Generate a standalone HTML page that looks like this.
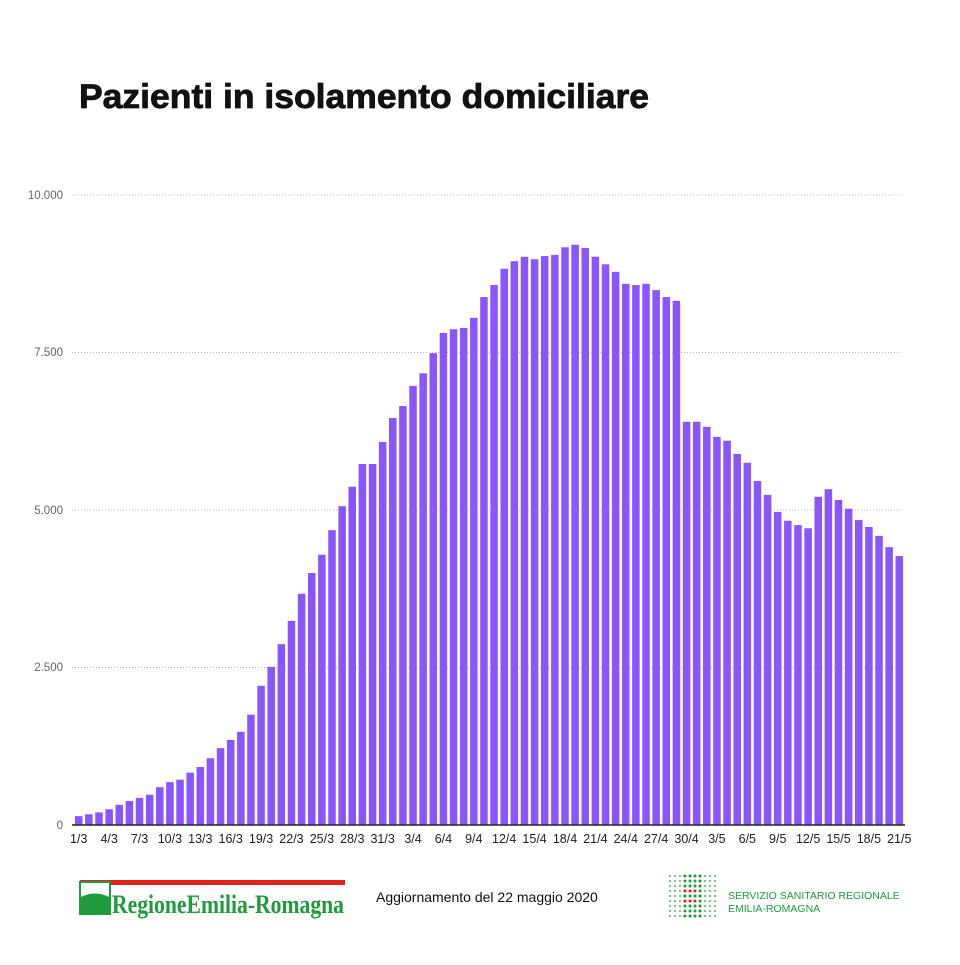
<!DOCTYPE html>
<html><head><meta charset="utf-8"><style>
body{margin:0;background:#fff;width:960px;height:960px;overflow:hidden;font-family:"Liberation Sans",sans-serif}
</style></head><body>
<svg id="s" width="960" height="960" xmlns="http://www.w3.org/2000/svg" font-family="Liberation Sans, sans-serif">
<text x="79" y="108" font-size="34" font-weight="bold" fill="#111" stroke="#111" stroke-width="0.8" textLength="570" lengthAdjust="spacingAndGlyphs">Pazienti in isolamento domiciliare</text>
<g stroke="#bbb" stroke-width="1" stroke-dasharray="1,2">
<line x1="72" y1="195" x2="903" y2="195"/><line x1="72" y1="352.5" x2="903" y2="352.5"/>
<line x1="72" y1="510" x2="903" y2="510"/><line x1="72" y1="667.5" x2="903" y2="667.5"/>
</g>
<g font-size="11.5" fill="#666" text-anchor="end">
<text x="63" y="199">10.000</text><text x="63" y="356">7.500</text><text x="63" y="514">5.000</text><text x="63" y="671">2.500</text><text x="63" y="829">0</text>
</g>
<g id="bars" fill="#8a55fb"></g>
<line x1="72" y1="825" x2="905" y2="825" stroke="#222" stroke-width="1.5"/>
<g id="lab" font-size="12.5" fill="#222" text-anchor="middle">
<text>1/3</text><text>4/3</text><text>7/3</text><text>10/3</text><text>13/3</text><text>16/3</text><text>19/3</text><text>22/3</text><text>25/3</text><text>28/3</text><text>31/3</text><text>3/4</text><text>6/4</text><text>9/4</text><text>12/4</text><text>15/4</text><text>18/4</text><text>21/4</text><text>24/4</text><text>27/4</text><text>30/4</text><text>3/5</text><text>6/5</text><text>9/5</text><text>12/5</text><text>15/5</text><text>18/5</text><text>21/5</text>
</g>
<rect x="80" y="880" width="265" height="5" fill="#e2231a"/>
<rect x="80" y="882" width="30" height="32" fill="#fff" stroke="#1f9a3c" stroke-width="2"/>
<path d="M81 897 Q95 890 109 897 L109 913 L81 913 Z" fill="#1f9a3c"/>
<text x="112" y="913" font-family="Liberation Serif, serif" font-size="26" font-weight="bold" fill="#1f9a3c" textLength="232" lengthAdjust="spacingAndGlyphs">RegioneEmilia-Romagna</text>
<text x="376" y="902" font-size="14" fill="#111">Aggiornamento del 22 maggio 2020</text>
<g id="dots"></g>
<text x="728" y="899" font-size="10.5" fill="#1f9a3c">SERVIZIO SANITARIO REGIONALE</text>
<text x="728" y="912" font-size="10.5" fill="#1f9a3c">EMILIA-ROMAGNA</text>
</svg>
<script>
var v=[140,170,200,250,320,380,430,480,600,680,720,830,920,1060,1220,1350,1480,1750,2210,2510,2870,3240,3670,4000,4290,4680,5060,5370,5730,5730,6080,
6460,6650,6970,7170,7490,7810,7870,7890,8050,8380,8570,8830,8950,9020,8980,9030,9050,9170,9210,9160,9020,8900,8780,8590,8570,8590,8490,8380,8320,6400,
6400,6320,6160,6100,5890,5750,5460,5240,4970,4830,4760,4710,5210,5330,5160,5020,4840,4730,4590,4410,4270];
var ns="http://www.w3.org/2000/svg",g=document.getElementById('bars'),p=10.13,w=7.5;
v.forEach(function(d,i){var r=document.createElementNS(ns,'rect');var h=d*0.063;
r.setAttribute('x',75+i*p);r.setAttribute('y',825-h);r.setAttribute('width',w);r.setAttribute('height',h);g.appendChild(r);});
var t=document.getElementById('lab').children;
for(var k=0;k<t.length;k++){t[k].setAttribute('x',75+w/2+k*3*p);t[k].setAttribute('y',843);}
var dg=document.getElementById('dots');
for(var r=0;r<9;r++)for(var c=0;c<10;c++){var e=document.createElementNS(ns,'circle');
e.setAttribute('cx',670+c*5);e.setAttribute('cy',876+r*5);
var big=(c>=3&&c<=6);e.setAttribute('r',big?1.5:0.9);
e.setAttribute('fill',(r==3||r==5)&&big&&c<6?'#e2231a':'#1f9a3c');dg.appendChild(e);}
</script>
</body></html>
